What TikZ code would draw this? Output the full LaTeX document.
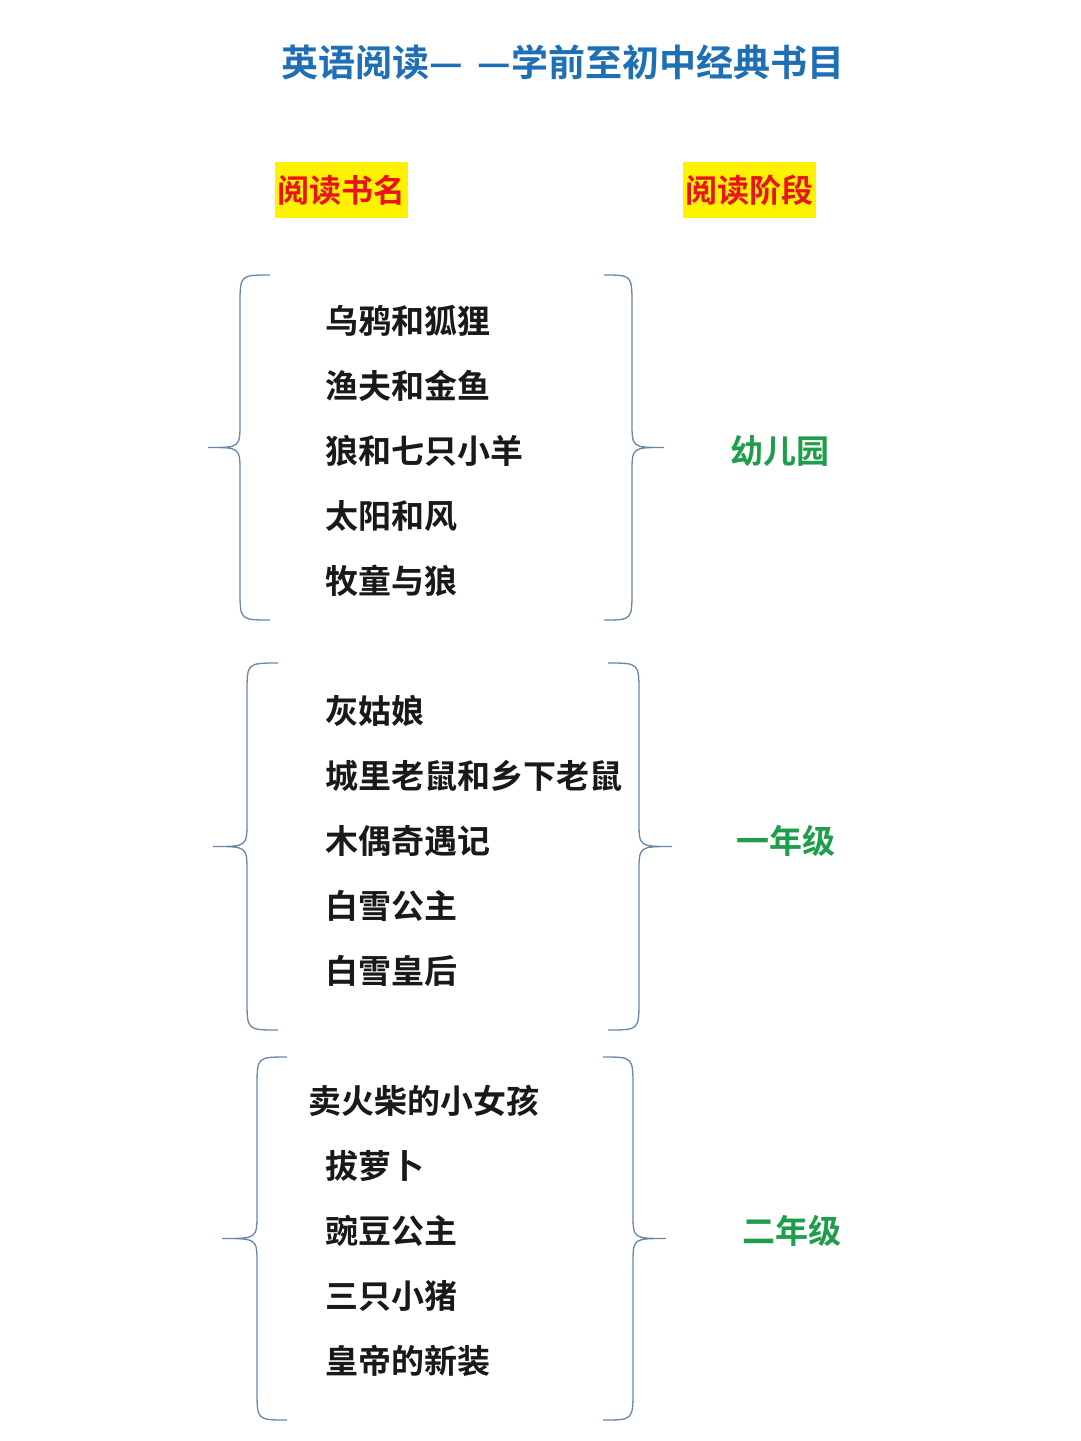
\documentclass[tikz,border=0pt]{standalone}
\usepackage{fontspec}
\newfontfamily\cjk{Noto Sans CJK SC Bold}
\newfontfamily\cjkb{Noto Sans CJK SC Bold}
\definecolor{titleblue}{HTML}{1F6FB5}
\definecolor{bracec}{HTML}{6A86A8}
\definecolor{stagegreen}{HTML}{1E9E4A}
\definecolor{hlred}{HTML}{E8141B}
\definecolor{hlyellow}{HTML}{FFF200}
\tikzset{
 book/.style={anchor=west,font=\cjk\fontsize{33}{38}\selectfont,text=black!90,inner sep=0pt},
 stage/.style={font=\cjk\fontsize{33}{38}\selectfont,text=stagegreen,inner sep=0pt},
 hdr/.style={fill=hlyellow,text=hlred,font=\cjkb\fontsize{32}{36}\selectfont,minimum width=133pt,minimum height=56pt,inner sep=0pt},
 br/.style={draw=bracec,line width=1.3pt}
}
\newcommand{\lbr}[5]{% tip spine end top bottom
 \pgfmathsetmacro\mid{(#4+#5)/2}
 \draw[br] (#3pt,-#4pt) .. controls (#2pt,-#4pt) and (#2pt,-#4pt) .. (#2pt,-#4pt-30pt) -- (#2pt,-\mid pt+25pt) .. controls (#2pt,-\mid pt) and (#2pt,-\mid pt) .. (#1pt,-\mid pt)
  .. controls (#2pt,-\mid pt) and (#2pt,-\mid pt) .. (#2pt,-\mid pt-25pt) -- (#2pt,-#5pt+30pt) .. controls (#2pt,-#5pt) and (#2pt,-#5pt) .. (#3pt,-#5pt);}
\begin{document}
\begin{tikzpicture}[x=1pt,y=1pt]
\useasboundingbox[fill=white] (0,0) rectangle (1080,-1441);
\node[font=\cjkb\fontsize{37}{42}\selectfont,text=titleblue] (title) at (563,-62) {英语阅读—\hspace{14pt}—学前至初中经典书目};
\node[hdr] (h1) at (341.5,-190) {阅读书名};
\node[hdr] (h2) at (749.5,-190) {阅读阶段};
\lbr{208}{240}{270}{275}{620}
\lbr{664}{632}{604}{275}{620}
\lbr{213}{247}{278}{663}{1030}
\lbr{672}{639}{608}{663}{1030}
\lbr{222}{257}{287}{1057}{1420}
\lbr{666}{633}{603}{1057}{1420}
\node[book] (a1) at (325,-321) {乌鸦和狐狸};
\node[book] (a2) at (325,-386) {渔夫和金鱼};
\node[book] (a3) at (325,-451) {狼和七只小羊};
\node[book] (a4) at (325,-516) {太阳和风};
\node[book] (a5) at (325,-581) {牧童与狼};
\node[book] (b1) at (325,-711) {灰姑娘};
\node[book] (b2) at (325,-776) {城里老鼠和乡下老鼠};
\node[book] (b3) at (325,-841) {木偶奇遇记};
\node[book] (b4) at (325,-906) {白雪公主};
\node[book] (b5) at (325,-971) {白雪皇后};
\node[book] (c1) at (308,-1101) {卖火柴的小女孩};
\node[book] (c2) at (325,-1166) {拔萝卜};
\node[book] (c3) at (325,-1231) {豌豆公主};
\node[book] (c4) at (325,-1296) {三只小猪};
\node[book] (c5) at (325,-1361) {皇帝的新装};
\node[stage] (s1) at (780,-451) {幼儿园};
\node[stage] (s2) at (786,-841) {一年级};
\node[stage] (s3) at (792,-1231) {二年级};
\end{tikzpicture}
\end{document}
